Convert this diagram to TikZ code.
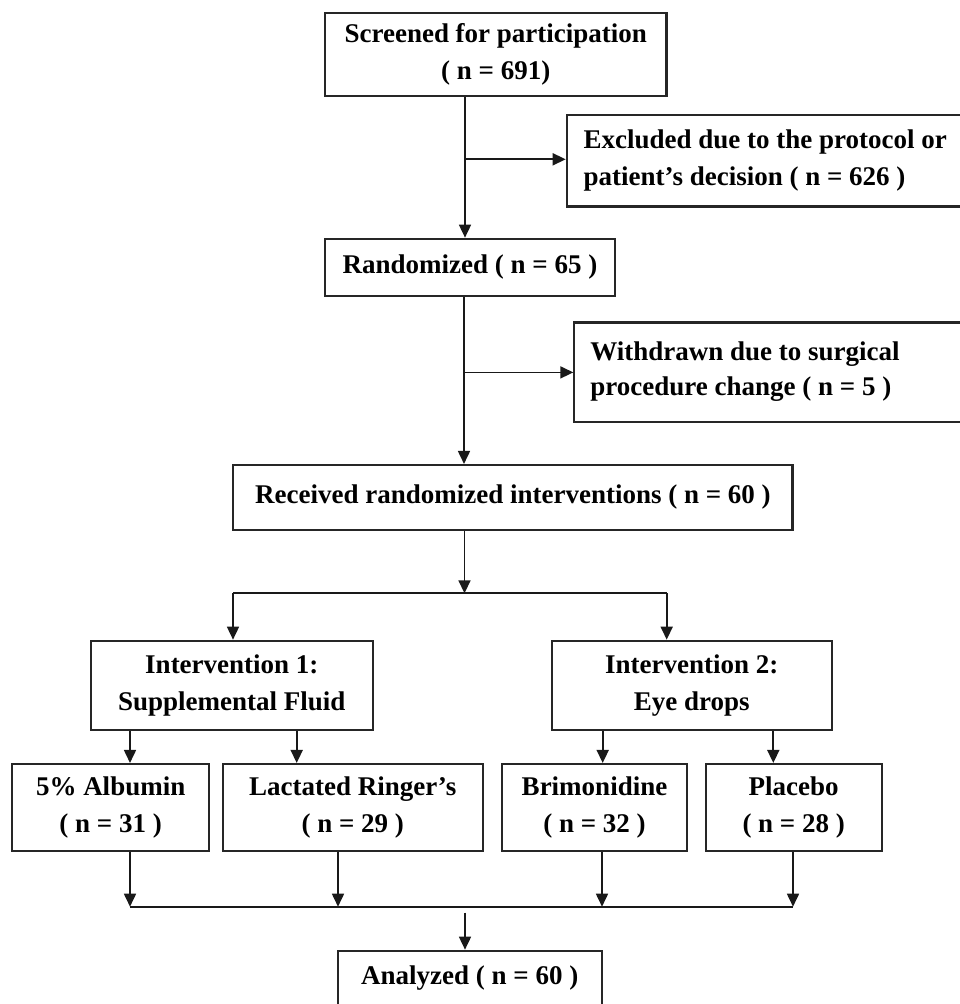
\documentclass[tikz,border=0pt]{standalone}
\usepackage{fontspec}
\setmainfont{Liberation Serif}
\usetikzlibrary{arrows.meta}
\begin{document}
\begin{tikzpicture}[x=1pt,y=-1pt,
  box/.style={draw=black!85, line width=2.1pt, inner sep=0pt, align=center,
    font=\bfseries\fontsize{27}{36.5}\selectfont},
  sidebox/.style={box, anchor=west, align=flush left, text width=380pt},
  conn/.style={line width=1.7pt, draw=black!90},
  arr/.style={conn, -{Triangle[length=13pt,width=12pt]}}]
\useasboundingbox (0,0) rectangle (959,1004);

% boxes
\node[box, minimum width=341.5pt, minimum height=83pt] (scr) at (495.75,54.5)
  {Screened for participation\\( n = 691)};
\node[sidebox, inner xsep=16.8pt, minimum height=91.5pt] (exc) at (565.7,160.75)
  {Excluded due to the protocol or\\patient’s decision ( n = 626 )};
\node[box, minimum width=290pt, minimum height=57.3pt] (ran) at (470,267.35)
  {Randomized ( n = 65 )};
\node[sidebox, inner xsep=16.1pt, minimum height=99.2pt,
  font=\bfseries\fontsize{27}{35}\selectfont] (wd) at (573.3,372.1)
  {Withdrawn due to surgical\\procedure change ( n = 5 )};
\node[box, minimum width=559.2pt, minimum height=65pt] (rec) at (512.9,497.5)
  {\raisebox{6pt}{Received randomized interventions ( n = 60 )}};
\node[box, minimum width=281.7pt, minimum height=89.3pt] (int1) at (231.85,685.35)
  {Intervention 1:\\Supplemental Fluid};
\node[box, minimum width=280pt, minimum height=89.3pt] (int2) at (691.7,685.35)
  {Intervention 2:\\Eye drops};
\node[box, minimum width=197.3pt, minimum height=86.7pt] (alb) at (110.65,807.35)
  {5\% Albumin\\( n = 31 )};
\node[box, minimum width=260pt, minimum height=86.7pt] (lac) at (352.7,807.35)
  {Lactated Ringer’s\\( n = 29 )};
\node[box, minimum width=185.6pt, minimum height=86.7pt] (bri) at (594.5,807.35)
  {Brimonidine\\( n = 32 )};
\node[box, minimum width=176pt, minimum height=86.7pt] (pla) at (793.7,807.35)
  {Placebo\\( n = 28 )};
\node[box, minimum width=264pt, minimum height=55.3pt] (ana) at (469.7,978.35)
  {Analyzed ( n = 60 )};

% helper coordinates
\coordinate (ax1) at (465,159.3);
\coordinate (ax2) at (464,372.4);
\coordinate (sp)  at (464.5,593.3);
\coordinate (spL) at (233,593.3);
\coordinate (spR) at (666.7,593.3);
\coordinate (c1) at (130,0);
\coordinate (c2) at (296.7,0);
\coordinate (c3) at (602.7,0);
\coordinate (c4) at (773.3,0);
\coordinate (m1) at (130,906.7);
\coordinate (m2) at (338,906.7);
\coordinate (m3) at (602,906.7);
\coordinate (m4) at (793,906.7);
\coordinate (mA) at (465,912.7);

% connectors
\draw[arr] (ax1 |- scr.south) -- (ax1 |- ran.north);
\draw[arr] (ax1) -- (ax1 -| exc.west);
\draw[arr] (ax2 |- ran.south) -- (ax2 |- rec.north);
\draw[arr] (ax2) -- (ax2 -| wd.west);
\draw[arr] (sp |- rec.south) -- (sp);
\draw[conn] (spL) -- (spR);
\draw[arr] (spL) -- (spL |- int1.north);
\draw[arr] (spR) -- (spR |- int2.north);
\draw[arr] (c1 |- int1.south) -- (c1 |- alb.north);
\draw[arr] (c2 |- int1.south) -- (c2 |- lac.north);
\draw[arr] (c3 |- int2.south) -- (c3 |- bri.north);
\draw[arr] (c4 |- int2.south) -- (c4 |- pla.north);
\draw[arr] (m1 |- alb.south) -- (m1);
\draw[arr] (m2 |- lac.south) -- (m2);
\draw[arr] (m3 |- bri.south) -- (m3);
\draw[arr] (m4 |- pla.south) -- (m4);
\draw[conn] (m1) -- (m4);
\draw[arr] (mA) -- (mA |- ana.north);
\end{tikzpicture}
\end{document}
